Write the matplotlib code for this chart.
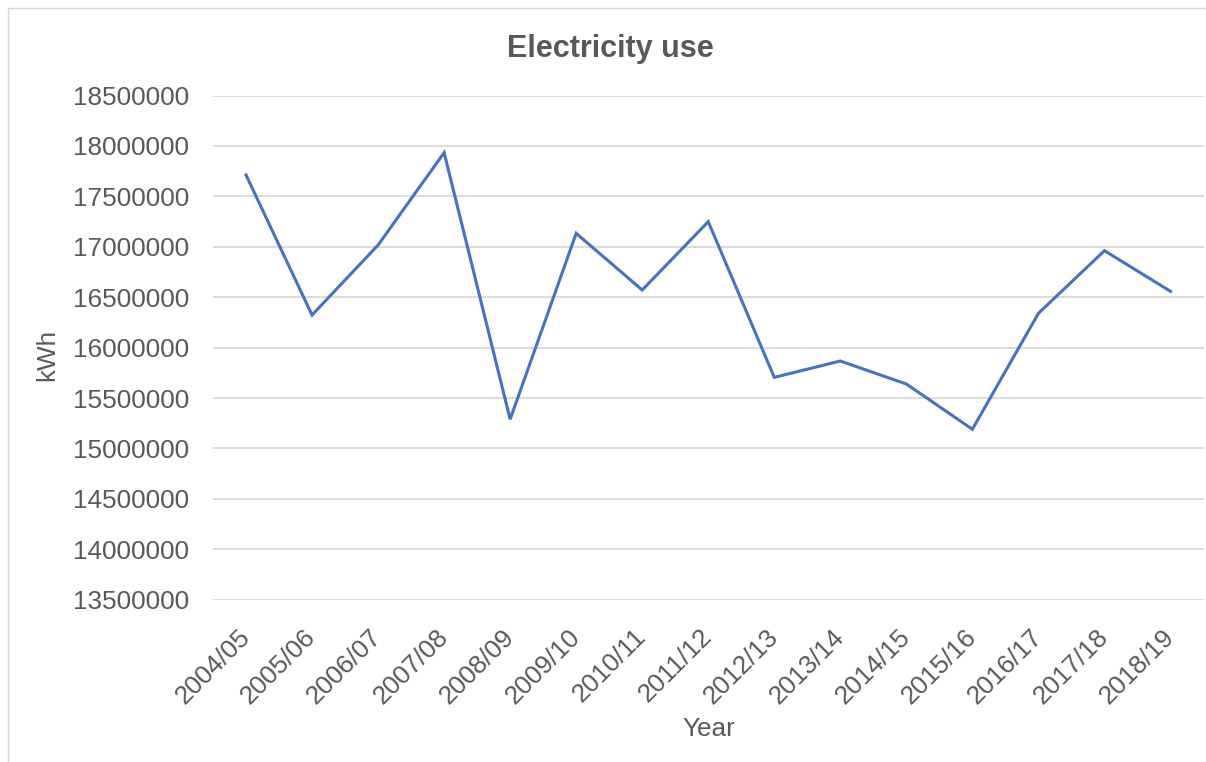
import matplotlib
matplotlib.use("Agg")
import matplotlib.pyplot as plt
from matplotlib.patches import Rectangle
from matplotlib.ticker import FixedLocator

# Annual electricity consumption (kWh) by financial year
years = ["2004/05", "2005/06", "2006/07", "2007/08", "2008/09", "2009/10",
         "2010/11", "2011/12", "2012/13", "2013/14", "2014/15", "2015/16",
         "2016/17", "2017/18", "2018/19"]
kwh = [17712000, 16323000, 17017000, 17933000, 15289000, 17133000,
       16571000, 17249000, 15705000, 15867000, 15639000, 15190000,
       16340000, 16961000, 16558000]
y_ticks = [13500000, 14000000, 14500000, 15000000, 15500000, 16000000,
           16500000, 17000000, 17500000, 18000000, 18500000]

W, H = 1206, 762
TEXT = "#595959"
GRID = "#D9D9D9"
LINE = "#4472C4"

plt.rcParams["font.family"] = ["Liberation Sans", "DejaVu Sans"]

fig = plt.figure(figsize=(W / 100, H / 100), dpi=100)
fig.patch.set_facecolor("white")

# chart frame
fig.patches.append(Rectangle((8 / W, -0.01), 1.02, 1 - 8 / H + 0.01,
                             transform=fig.transFigure, fill=False,
                             edgecolor=GRID, linewidth=1.0))

left, right, top, bottom = 213, 1203.5, 95.5, 599.7
ax = fig.add_axes([left / W, 1 - bottom / H, (right - left) / W, (bottom - top) / H])

x = list(range(len(years)))
ax.plot(x, kwh, color=LINE, linewidth=2.2, solid_joinstyle="miter")

ax.set_xlim(-0.5, len(years) - 0.5)
ax.set_ylim(y_ticks[0], y_ticks[-1])
ax.yaxis.set_major_locator(FixedLocator(y_ticks))
ax.set_yticklabels([str(v) for v in y_ticks])
ax.set_xticks(x)
ax.set_xticklabels(years, rotation=45, ha="right", va="center",
                   rotation_mode="anchor")

ax.grid(axis="y", color=GRID, linewidth=1.3)
ax.set_axisbelow(True)
for s in ax.spines.values():
    s.set_visible(False)

ax.tick_params(axis="y", length=0, pad=17, labelsize=18.8, labelcolor=TEXT)
ax.tick_params(axis="x", length=0, pad=24, labelsize=18.8, labelcolor=TEXT)

fig.text(610 / W, 1 - 57 / H, "Electricity use", ha="center", va="baseline",
         fontsize=22, fontweight="bold", color=TEXT)
fig.text(47 / W, 1 - 355 / H, "kWh", ha="center", va="center", rotation=90,
         fontsize=18.8, color=TEXT)
fig.text(709 / W, 1 - 729 / H, "Year", ha="center", va="center",
         fontsize=18.8, color=TEXT)

fig.savefig("out.png", dpi=100, facecolor="white")
